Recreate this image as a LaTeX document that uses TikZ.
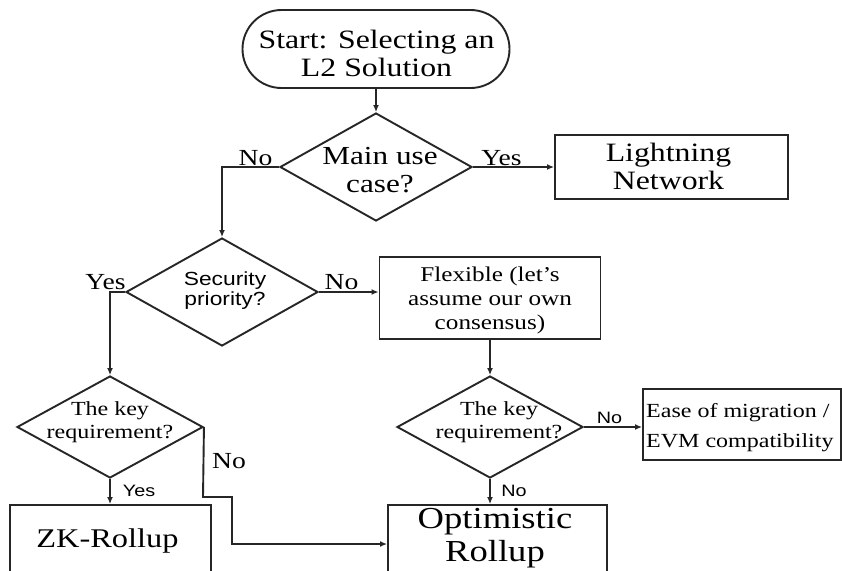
\documentclass[tikz,border=0pt]{standalone}
\usepackage{fontspec}
\setmainfont{Liberation Serif}[FakeStretch=1.2]
\newfontfamily\lsans{Liberation Sans}[FakeStretch=1.2]
\usetikzlibrary{shapes.geometric,arrows.meta}
\definecolor{ink}{HTML}{262626}
\tikzset{
  dec/.style={shape=diamond, draw=ink, line width=1.9pt, inner sep=0pt, minimum width=#1},
  boxn/.style={shape=rectangle, draw=ink, line width=1.9pt, inner sep=0pt},
  txt/.style={inner sep=0pt, align=center, text=black},
  lab/.style={inner sep=0pt, anchor=base, text=black, font=\fontsize{23}{26}\selectfont},
  slab/.style={inner sep=0pt, anchor=base, text=black, font=\lsans\fontsize{16.5}{19}\selectfont},
  arr/.style={draw=ink, line width=1.9pt, -{Latex[length=7pt,width=6pt]}},
}
\begin{document}
\begin{tikzpicture}[x=1pt,y=-1pt]
\fill[white] (0,0) rectangle (842,570);
\clip (0,0) rectangle (842,570);
% shapes
\node[boxn, rounded corners=39pt, minimum width=267pt, minimum height=78pt] (start) at (376,49) {};
\node[dec=192pt, minimum height=108pt] (d1) at (376,167) {};
\node[boxn, minimum width=233pt, minimum height=64pt] (light) at (671.5,167) {};
\node[dec=192pt, minimum height=108pt] (d2) at (222,292) {};
\node[boxn, minimum width=221pt, minimum height=82pt] (flex) at (490,298) {};
\node[dec=186pt, minimum height=102pt] (d3) at (110,427) {};
\node[dec=186pt, minimum height=102pt] (d4) at (490,427) {};
\node[boxn, minimum width=198pt, minimum height=71pt] (ease) at (742,424.5) {};
\node[boxn, minimum width=201pt, minimum height=85pt] (zk) at (110.5,547.5) {};
\node[boxn, minimum width=219pt, minimum height=85pt] (opt) at (497.5,547.5) {};
% texts
\node[txt, font=\fontsize{26.5}{28}\selectfont] (tstart) at (376.5,53) {Start: Selecting an\\L2 Solution};
\node[txt, font=\fontsize{26}{28}\selectfont] (td1) at (380,170) {Main use\\case?};
\node[txt, font=\fontsize{26.5}{28}\selectfont] (tlight) at (668.5,166) {Lightning\\Network};
\node[txt, font=\lsans\fontsize{19}{20}\selectfont] (td2) at (225,291) {Security\\priority?};
\node[txt, font=\fontsize{21}{24}\selectfont] (tflex) at (490,300) {Flexible (let's\\assume our own\\consensus)};
\node[txt, font=\fontsize{20}{23}\selectfont] (td3) at (110,421.7) {The key\\requirement?};
\node[txt, font=\fontsize{20}{23}\selectfont] (td4) at (499,421.7) {The key\\requirement?};
\node[txt, align=left, anchor=west, font=\fontsize{20}{30}\selectfont] (tease) at (646,427.3) {Ease of migration /\\EVM compatibility};
\node[txt, anchor=base, font=\fontsize{27}{30}\selectfont] (tzk) at (107.5,547) {ZK-Rollup};
\node[txt, font=\fontsize{30.5}{33}\selectfont] (topt) at (495,538) {Optimistic\\Rollup};
% bend points
\coordinate (c1) at (203,497);
\coordinate (c2) at (232,497);
\coordinate (c3) at (232,544);
% connectors
\draw[arr] (start.south) -- (d1.north);
\draw[arr] (d1.east) -- (d1.east -| light.west);
\draw[arr] (d1.west) -| (d2.north);
\draw[arr] (d2.west) -| (d3.north);
\draw[arr] (d2.east) -- (d2.east -| flex.west);
\draw[arr] (flex.south) -- (d4.north);
\draw[arr] (d3.south) -- (d3.south |- zk.north);
\draw[arr] (d3.east) -- (c1) -- (c2) -- (c3) -- (c3 -| opt.west);
\draw[arr] (d4.east) -- (d4.east -| ease.west);
\draw[arr] (d4.south) -- (d4.south |- opt.north);
% labels
\node[lab] (l1) at (255.5,165) {No};
\node[lab] (l2) at (501.5,165) {Yes};
\node[lab] (l3) at (105.5,289) {Yes};
\node[lab] (l4) at (341.5,289) {No};
\node[lab] (l5) at (229,468) {No};
\node[slab] (l6) at (139,496) {Yes};
\node[slab] (l7) at (609.5,423) {No};
\node[slab] (l8) at (514,496) {No};
\end{tikzpicture}
\end{document}
